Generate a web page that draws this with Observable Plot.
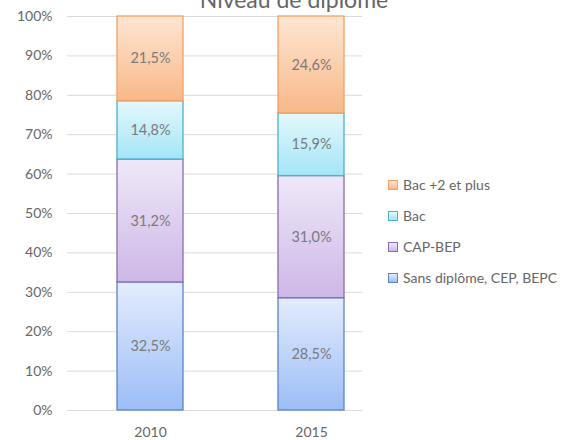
<!DOCTYPE html>
<html>
<head>
<meta charset="utf-8">
<script src="https://cdn.jsdelivr.net/npm/d3@7"></script>
<script src="https://cdn.jsdelivr.net/npm/@observablehq/plot@0.6"></script>
<style>
  html, body { margin: 0; padding: 0; background: #fff; overflow: hidden; }
  #wrap { position: relative; width: 570px; height: 440px; font-family: Lato, sans-serif; color: #666; }
  #title { position: absolute; left: 0; width: 588px; text-align: center; top: -12px; font-size: 23px; line-height: 23px; color: #666; white-space: nowrap; }
  #legend { position: absolute; left: 388px; top: 176px; font-size: 14px; color: #666; }
  .item { height: 31px; display: flex; align-items: flex-start; }
  .sw { width: 8px; height: 8px; border: 1px solid; margin-top: 4px; margin-right: 5px; }
  #chart { position: absolute; left: 0; top: 0; }
</style>
</head>
<body>
<div id="wrap">
  <div id="chart"></div>
  <div id="title">Niveau de diplôme</div>
  <div id="legend"></div>
</div>
<script>
const years = ["2010", "2015"];
const seriesNames = ["Sans diplôme, CEP, BEPC", "CAP-BEP", "Bac", "Bac +2 et plus"];
const values2010 = [32.5, 31.2, 14.8, 21.5];
const values2015 = [28.5, 31.0, 15.9, 24.6];
const yTicks = [0, 10, 20, 30, 40, 50, 60, 70, 80, 90, 100];
const gradTop = ["#e3ecfd", "#efe8f8", "#e4f8fd", "#fee6d3"];
const gradBottom = ["#9cbdf7", "#cdb7e7", "#a4e5f7", "#f8b888"];
const borderColors = ["#5a86c4", "#8a6cae", "#4fb0c8", "#f3a063"];

const data = [];
years.forEach((yr, j) => {
  const vals = j === 0 ? values2010 : values2015;
  seriesNames.forEach((s, i) => {
    data.push({year: yr, series: s, idx: i, value: vals[i]});
  });
});

const fmt = v => v.toFixed(1).replace(".", ",") + "%";

const svg = Plot.plot({
  width: 570,
  height: 440,
  marginTop: 16,
  marginBottom: 30,
  marginLeft: 67,
  marginRight: 208,
  style: {fontFamily: "Lato, sans-serif", fontSize: "14px", color: "#666", background: "transparent"},
  x: {domain: years, range: [117, 345], paddingInner: 0.588, paddingOuter: 0, align: 0, tickSize: 0, tickPadding: 17, label: null},
  y: {domain: [0, 100], ticks: yTicks, tickFormat: d => d + "%", tickSize: 0, tickPadding: 15, label: null},
  color: {type: "identity"},
  marks: [
    Plot.ruleY(yTicks, {stroke: "#d9d9d9", strokeWidth: 1}),
    Plot.barY(data, Plot.stackY({
      x: "year", y: "value", order: null,
      fill: d => `url(#grad${d.idx})`,
      stroke: d => borderColors[d.idx],
      strokeWidth: 1.3,
      inset: 0
    })),
    Plot.text(data, Plot.stackY({
      x: "year", y: "value", order: null,
      text: d => fmt(d.value),
      fill: "#7a7a7a",
      fontSize: 14.5
    }))
  ]
});

const ns = "http://www.w3.org/2000/svg";
const defs = document.createElementNS(ns, "defs");
gradTop.forEach((c, i) => {
  const g = document.createElementNS(ns, "linearGradient");
  g.setAttribute("id", "grad" + i);
  g.setAttribute("x1", "0"); g.setAttribute("y1", "0");
  g.setAttribute("x2", "0"); g.setAttribute("y2", "1");
  const s1 = document.createElementNS(ns, "stop");
  s1.setAttribute("offset", "0"); s1.setAttribute("stop-color", c);
  const s2 = document.createElementNS(ns, "stop");
  s2.setAttribute("offset", "1"); s2.setAttribute("stop-color", gradBottom[i]);
  g.appendChild(s1); g.appendChild(s2);
  defs.appendChild(g);
});
svg.insertBefore(defs, svg.firstChild);
document.getElementById("chart").appendChild(svg);

const legend = document.getElementById("legend");
for (let i = seriesNames.length - 1; i >= 0; i--) {
  const item = document.createElement("div");
  item.className = "item";
  const sw = document.createElement("div");
  sw.className = "sw";
  sw.style.borderColor = borderColors[i];
  sw.style.background = `linear-gradient(${gradTop[i]}, ${gradBottom[i]})`;
  const t = document.createElement("span");
  t.textContent = seriesNames[i];
  item.appendChild(sw);
  item.appendChild(t);
  legend.appendChild(item);
}
</script>
</body>
</html>
